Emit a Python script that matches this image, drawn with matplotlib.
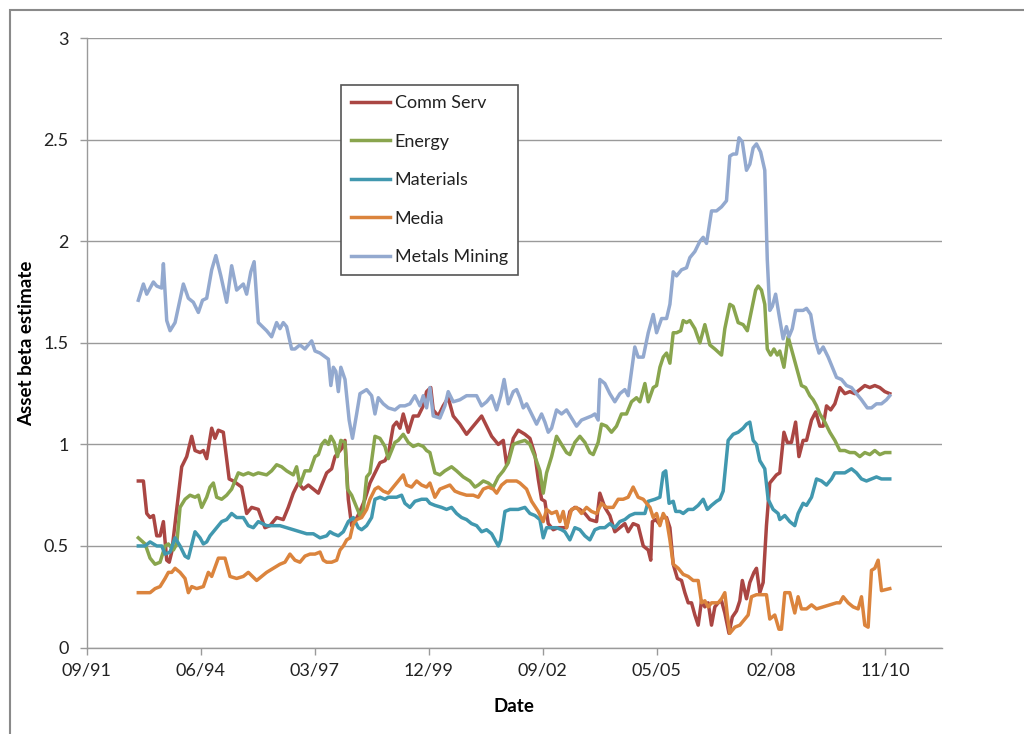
import datetime as dt
import matplotlib
matplotlib.use('Agg')
import matplotlib.pyplot as plt
import matplotlib.dates as mdates
from matplotlib.patches import Rectangle

# (decimal year, asset beta)
comm_serv = [(1992.96,0.82),(1993.08,0.82),(1993.16,0.66),(1993.24,0.64),(1993.32,0.65),(1993.40,0.55),(1993.48,0.55),(1993.56,0.62),(1993.64,0.43),(1993.70,0.42),(1993.76,0.47),(1993.84,0.61),(1994.00,0.89),(1994.12,0.94),(1994.24,1.04),(1994.32,0.97),(1994.44,0.96),(1994.52,0.97),(1994.60,0.93),(1994.72,1.08),(1994.80,1.03),(1994.88,1.07),(1995.00,1.06),(1995.14,0.83),(1995.24,0.82),(1995.44,0.79),(1995.56,0.66),(1995.68,0.69),(1995.84,0.68),
    (1996.00,0.59),(1996.12,0.60),(1996.28,0.64),(1996.44,0.63),(1996.56,0.69),(1996.68,0.76),(1996.80,0.81),(1996.92,0.78),(1997.04,0.80),(1997.16,0.78),(1997.28,0.76),(1997.40,0.82),(1997.48,0.86),(1997.60,0.88),(1997.68,0.94),(1997.76,0.96),(1997.84,0.98),(1997.92,1.02),(1998.00,0.73),(1998.08,0.60),(1998.16,0.62),(1998.28,0.67),(1998.40,0.73),(1998.52,0.81),(1998.64,0.86),(1998.76,0.91),(1998.88,0.92),(1998.96,0.95),
    (1999.08,1.09),(1999.16,1.11),(1999.24,1.08),(1999.32,1.15),(1999.44,1.06),(1999.56,1.14),(1999.68,1.14),(1999.80,1.19),(1999.88,1.26),(1999.98,1.28),(2000.04,1.17),(2000.16,1.14),(2000.28,1.19),(2000.40,1.23),(2000.52,1.14),(2000.68,1.10),(2000.84,1.05),(2000.96,1.08),(2001.08,1.11),(2001.20,1.14),(2001.32,1.09),(2001.44,1.04),(2001.60,1.00),(2001.72,1.02),(2001.80,0.90),(2001.86,0.94),(2001.96,1.03),(2002.08,1.07),
    (2002.24,1.05),(2002.36,1.03),(2002.48,0.95),(2002.56,0.83),(2002.64,0.73),(2002.72,0.72),(2002.80,0.61),(2002.92,0.58),(2003.04,0.59),(2003.16,0.59),(2003.24,0.59),(2003.32,0.67),(2003.44,0.69),(2003.56,0.68),(2003.68,0.66),(2003.80,0.63),(2003.96,0.62),(2004.04,0.76),(2004.16,0.69),(2004.28,0.65),(2004.40,0.57),(2004.52,0.59),(2004.64,0.61),(2004.72,0.57),(2004.84,0.61),(2004.96,0.60),(2005.08,0.50),(2005.20,0.48),(2005.26,0.43),
    (2005.30,0.62),(2005.38,0.63),(2005.46,0.61),(2005.54,0.64),(2005.64,0.64),(2005.72,0.59),(2005.80,0.41),(2005.90,0.34),(2006.00,0.33),(2006.08,0.27),(2006.16,0.22),(2006.24,0.22),(2006.32,0.16),(2006.40,0.11),(2006.48,0.23),(2006.56,0.20),(2006.64,0.22),(2006.72,0.11),(2006.80,0.20),(2006.88,0.22),(2006.96,0.23),(2007.04,0.17),(2007.14,0.07),(2007.22,0.15),(2007.32,0.18),(2007.40,0.23),(2007.46,0.33),(2007.56,0.24),(2007.64,0.32),(2007.74,0.37),(2007.80,0.39),(2007.88,0.27),(2007.96,0.32),(2008.04,0.60),(2008.12,0.81),(2008.20,0.83),(2008.28,0.85),(2008.36,0.86),
    (2008.46,1.06),(2008.54,1.01),(2008.64,1.01),(2008.74,1.11),(2008.82,0.94),(2008.92,1.02),(2009.00,1.02),(2009.12,1.12),(2009.22,1.16),(2009.32,1.09),(2009.40,1.09),(2009.48,1.19),(2009.58,1.17),(2009.68,1.20),(2009.80,1.28),(2009.92,1.25),(2010.04,1.26),(2010.16,1.25),(2010.28,1.27),(2010.40,1.29),(2010.52,1.28),(2010.64,1.29),(2010.76,1.28),(2010.88,1.26),(2011.00,1.25)]

energy = [(1992.96,0.54),(1993.12,0.51),(1993.24,0.44),(1993.36,0.41),(1993.48,0.42),(1993.60,0.50),(1993.68,0.51),(1993.80,0.48),(1993.88,0.51),(1993.96,0.69),(1994.08,0.73),(1994.20,0.75),(1994.32,0.74),(1994.40,0.75),(1994.48,0.69),(1994.60,0.74),(1994.68,0.79),(1994.76,0.81),(1994.84,0.74),(1994.96,0.73),(1995.08,0.75),(1995.20,0.78),(1995.28,0.82),(1995.36,0.86),(1995.48,0.85),(1995.60,0.86),(1995.72,0.85),(1995.84,0.86),
    (1996.04,0.85),(1996.16,0.87),(1996.28,0.90),(1996.40,0.89),(1996.52,0.87),(1996.68,0.85),(1996.76,0.89),(1996.84,0.80),(1996.96,0.87),(1997.08,0.87),(1997.20,0.94),(1997.28,0.95),(1997.36,1.00),(1997.44,1.02),(1997.52,1.00),(1997.58,1.04),(1997.66,1.01),(1997.74,0.94),(1997.82,1.02),(1997.92,1.01),(1997.98,0.78),(1998.08,0.75),(1998.20,0.69),(1998.28,0.65),(1998.36,0.68),(1998.44,0.84),(1998.52,0.86),(1998.64,1.04),(1998.76,1.03),(1998.88,0.99),(1998.96,0.93),
    (1999.12,1.01),(1999.20,1.02),(1999.32,1.05),(1999.44,1.01),(1999.56,0.99),(1999.68,1.00),(1999.80,0.99),(1999.88,0.97),(1999.96,0.96),(2000.08,0.86),(2000.20,0.85),(2000.32,0.87),(2000.48,0.89),(2000.60,0.87),(2000.76,0.84),(2000.92,0.82),(2001.04,0.79),(2001.12,0.80),(2001.24,0.82),(2001.36,0.81),(2001.48,0.79),(2001.60,0.84),(2001.72,0.87),(2001.84,0.91),(2001.96,1.00),(2002.08,1.01),
    (2002.24,1.02),(2002.36,1.00),(2002.48,0.94),(2002.60,0.87),(2002.68,0.76),(2002.76,0.86),(2002.88,0.94),(2003.00,1.04),(2003.12,1.00),(2003.24,0.96),(2003.32,0.95),(2003.44,1.01),(2003.56,1.04),(2003.68,1.01),(2003.80,0.96),(2003.88,0.95),(2004.00,1.01),(2004.08,1.10),(2004.20,1.09),(2004.32,1.06),(2004.44,1.09),(2004.56,1.15),(2004.68,1.15),(2004.80,1.21),(2004.92,1.23),(2005.00,1.21),(2005.12,1.30),(2005.20,1.21),
    (2005.32,1.28),(2005.40,1.29),(2005.48,1.38),(2005.56,1.43),(2005.64,1.45),(2005.72,1.40),(2005.80,1.55),(2005.88,1.55),(2005.98,1.56),(2006.04,1.61),(2006.12,1.60),(2006.20,1.61),(2006.32,1.57),(2006.44,1.50),(2006.56,1.59),(2006.68,1.49),(2006.80,1.47),(2006.96,1.44),(2007.04,1.57),(2007.16,1.69),(2007.24,1.68),(2007.36,1.60),(2007.48,1.59),(2007.58,1.56),(2007.68,1.66),(2007.78,1.76),(2007.84,1.78),(2007.92,1.76),(2008.00,1.69),(2008.06,1.47),(2008.14,1.44),(2008.22,1.47),(2008.30,1.44),
    (2008.36,1.46),(2008.46,1.38),(2008.56,1.53),(2008.68,1.44),(2008.80,1.35),(2008.88,1.29),(2008.98,1.28),(2009.08,1.24),(2009.16,1.22),(2009.24,1.19),(2009.32,1.15),(2009.44,1.11),(2009.56,1.06),(2009.68,1.02),(2009.80,0.97),(2009.92,0.97),(2010.04,0.96),(2010.16,0.96),(2010.28,0.94),(2010.40,0.96),(2010.52,0.95),(2010.64,0.97),(2010.76,0.95),(2010.88,0.96),(2011.00,0.96)]

materials = [(1992.96,0.50),(1993.12,0.50),(1993.24,0.52),(1993.40,0.50),(1993.52,0.50),(1993.60,0.46),(1993.72,0.47),(1993.84,0.54),(1993.96,0.50),(1994.08,0.45),(1994.16,0.44),(1994.32,0.57),(1994.44,0.54),(1994.52,0.51),(1994.60,0.52),(1994.68,0.55),(1994.84,0.59),(1994.96,0.62),(1995.08,0.63),(1995.20,0.66),(1995.32,0.64),(1995.48,0.64),(1995.60,0.60),(1995.72,0.59),(1995.84,0.62),
    (1996.04,0.60),(1996.20,0.60),(1996.36,0.60),(1996.52,0.59),(1996.68,0.58),(1996.84,0.57),(1997.00,0.56),(1997.16,0.56),(1997.32,0.54),(1997.48,0.55),(1997.56,0.57),(1997.64,0.56),(1997.76,0.55),(1997.88,0.57),(1998.00,0.62),(1998.12,0.64),(1998.24,0.59),(1998.32,0.58),(1998.44,0.60),(1998.56,0.64),(1998.64,0.73),(1998.76,0.74),(1998.88,0.73),(1998.96,0.74),
    (1999.16,0.74),(1999.28,0.75),(1999.36,0.71),(1999.48,0.69),(1999.60,0.72),(1999.76,0.73),(1999.88,0.73),(1999.96,0.71),(2000.08,0.70),(2000.24,0.69),(2000.36,0.68),(2000.48,0.69),(2000.60,0.66),(2000.72,0.64),(2000.84,0.63),(2000.96,0.61),(2001.08,0.60),(2001.20,0.57),(2001.32,0.58),(2001.44,0.56),(2001.52,0.53),(2001.60,0.50),(2001.66,0.53),(2001.76,0.67),(2001.88,0.68),(2002.00,0.68),(2002.08,0.68),
    (2002.24,0.69),(2002.36,0.66),(2002.48,0.65),(2002.60,0.63),(2002.68,0.54),(2002.76,0.59),(2002.88,0.59),(2003.00,0.59),(2003.12,0.58),(2003.20,0.57),(2003.32,0.53),(2003.44,0.59),(2003.56,0.58),(2003.68,0.55),(2003.80,0.53),(2003.92,0.58),(2004.04,0.59),(2004.16,0.59),(2004.28,0.61),(2004.40,0.59),(2004.52,0.62),(2004.64,0.63),(2004.76,0.65),(2004.88,0.66),(2005.00,0.66),(2005.12,0.66),(2005.20,0.72),
    (2005.36,0.73),(2005.48,0.74),(2005.56,0.86),(2005.62,0.87),(2005.70,0.71),(2005.80,0.72),(2005.86,0.67),(2005.96,0.67),(2006.04,0.66),(2006.16,0.68),(2006.28,0.68),(2006.40,0.70),(2006.52,0.73),(2006.62,0.68),(2006.72,0.70),(2006.84,0.72),(2006.92,0.73),(2007.00,0.77),(2007.12,1.02),(2007.24,1.05),(2007.36,1.06),(2007.48,1.08),(2007.56,1.10),(2007.64,1.11),(2007.72,1.02),(2007.80,1.00),(2007.88,0.92),(2008.00,0.88),(2008.08,0.73),(2008.20,0.68),(2008.32,0.66),
    (2008.36,0.63),(2008.48,0.65),(2008.60,0.62),(2008.72,0.60),(2008.80,0.66),(2008.92,0.71),(2009.00,0.70),(2009.12,0.74),(2009.24,0.83),(2009.36,0.82),(2009.48,0.80),(2009.60,0.83),(2009.68,0.86),(2009.80,0.86),(2009.92,0.86),(2010.08,0.88),(2010.20,0.86),(2010.32,0.83),(2010.44,0.82),(2010.56,0.83),(2010.68,0.84),(2010.80,0.83),(2010.92,0.83),(2011.00,0.83)]

media = [(1992.96,0.27),(1993.24,0.27),(1993.36,0.29),(1993.48,0.30),(1993.60,0.34),(1993.68,0.37),(1993.76,0.37),(1993.84,0.39),(1993.96,0.37),(1994.08,0.34),(1994.16,0.27),(1994.24,0.30),(1994.36,0.29),(1994.52,0.30),(1994.64,0.37),(1994.72,0.35),(1994.88,0.44),(1995.04,0.44),(1995.16,0.35),(1995.32,0.34),(1995.48,0.35),(1995.60,0.37),(1995.80,0.33),
    (1996.04,0.37),(1996.20,0.39),(1996.36,0.41),(1996.48,0.42),(1996.60,0.46),(1996.72,0.43),(1996.84,0.42),(1996.96,0.45),(1997.08,0.46),(1997.20,0.46),(1997.32,0.47),(1997.40,0.43),(1997.48,0.42),(1997.60,0.42),(1997.72,0.43),(1997.80,0.48),(1997.88,0.50),(1997.96,0.53),(1998.04,0.54),(1998.12,0.61),(1998.20,0.63),(1998.32,0.64),(1998.44,0.68),(1998.52,0.73),(1998.64,0.78),(1998.72,0.79),(1998.84,0.77),(1998.96,0.76),
    (1999.12,0.80),(1999.24,0.83),(1999.32,0.85),(1999.40,0.80),(1999.52,0.79),(1999.64,0.82),(1999.76,0.80),(1999.88,0.79),(1999.96,0.81),(2000.08,0.74),(2000.20,0.78),(2000.32,0.79),(2000.44,0.80),(2000.56,0.77),(2000.68,0.76),(2000.84,0.75),(2001.00,0.75),(2001.12,0.74),(2001.24,0.78),(2001.36,0.79),(2001.48,0.78),(2001.56,0.76),(2001.68,0.80),(2001.80,0.82),(2001.92,0.82),(2002.04,0.82),
    (2002.12,0.81),(2002.28,0.78),(2002.40,0.72),(2002.56,0.67),(2002.68,0.62),(2002.76,0.68),(2002.88,0.66),(2003.00,0.67),(2003.08,0.62),(2003.16,0.67),(2003.24,0.59),(2003.36,0.68),(2003.48,0.69),(2003.60,0.66),(2003.72,0.69),(2003.84,0.67),(2003.96,0.66),(2004.08,0.71),(2004.20,0.69),(2004.36,0.69),(2004.48,0.73),(2004.60,0.73),(2004.72,0.74),(2004.84,0.79),(2004.96,0.74),(2005.08,0.73),(2005.16,0.71),
    (2005.24,0.69),(2005.32,0.64),(2005.40,0.66),(2005.48,0.60),(2005.56,0.66),(2005.64,0.63),(2005.72,0.53),(2005.80,0.41),(2005.92,0.39),(2006.04,0.36),(2006.16,0.35),(2006.28,0.33),(2006.40,0.33),(2006.48,0.22),(2006.56,0.23),(2006.64,0.20),(2006.72,0.22),(2006.80,0.22),(2006.88,0.22),(2006.96,0.24),(2007.04,0.27),(2007.10,0.16),(2007.16,0.07),(2007.28,0.10),(2007.40,0.11),(2007.52,0.14),(2007.60,0.16),(2007.68,0.25),(2007.80,0.26),(2007.92,0.26),(2008.04,0.26),(2008.12,0.14),(2008.24,0.16),(2008.34,0.09),
    (2008.40,0.09),(2008.48,0.27),(2008.60,0.27),(2008.72,0.17),(2008.80,0.25),(2008.88,0.19),(2009.00,0.19),(2009.12,0.21),(2009.24,0.19),(2009.40,0.20),(2009.56,0.21),(2009.72,0.22),(2009.80,0.22),(2009.88,0.25),(2010.00,0.22),(2010.12,0.20),(2010.24,0.19),(2010.32,0.25),(2010.40,0.11),(2010.48,0.10),(2010.56,0.38),(2010.64,0.39),(2010.72,0.43),(2010.80,0.28),(2011.00,0.29)]

metals_mining = [(1992.96,1.71),(1993.08,1.79),(1993.16,1.74),(1993.32,1.80),(1993.40,1.78),(1993.52,1.77),(1993.56,1.89),(1993.64,1.61),(1993.72,1.56),(1993.84,1.60),(1994.04,1.79),(1994.16,1.72),(1994.28,1.70),(1994.40,1.65),(1994.50,1.71),(1994.60,1.72),(1994.72,1.86),(1994.82,1.93),(1994.94,1.83),(1995.08,1.70),(1995.20,1.88),(1995.32,1.76),(1995.48,1.79),(1995.56,1.74),(1995.66,1.85),(1995.74,1.90),(1995.84,1.60),
    (1996.04,1.56),(1996.16,1.53),(1996.28,1.60),(1996.36,1.57),(1996.44,1.60),(1996.52,1.58),(1996.64,1.47),(1996.72,1.47),(1996.84,1.49),(1996.96,1.47),(1997.12,1.51),(1997.20,1.46),(1997.32,1.45),(1997.52,1.42),(1997.58,1.29),(1997.64,1.38),(1997.70,1.36),(1997.76,1.26),(1997.82,1.38),(1997.92,1.32),(1998.02,1.12),(1998.10,1.03),(1998.20,1.15),(1998.28,1.25),(1998.44,1.27),(1998.56,1.24),(1998.64,1.15),(1998.72,1.23),(1998.84,1.20),(1998.96,1.18),
    (1999.12,1.17),(1999.24,1.19),(1999.36,1.19),(1999.48,1.20),(1999.60,1.24),(1999.72,1.19),(1999.80,1.24),(1999.88,1.18),(1999.96,1.28),(2000.04,1.14),(2000.20,1.13),(2000.32,1.19),(2000.40,1.26),(2000.52,1.21),(2000.68,1.22),(2000.84,1.24),(2000.96,1.24),(2001.08,1.24),(2001.20,1.19),(2001.32,1.21),(2001.44,1.24),(2001.56,1.17),(2001.66,1.24),(2001.74,1.32),(2001.84,1.20),(2001.96,1.26),(2002.04,1.27),
    (2002.12,1.23),(2002.20,1.18),(2002.28,1.20),(2002.40,1.15),(2002.52,1.10),(2002.64,1.15),(2002.72,1.11),(2002.80,1.06),(2002.88,1.08),(2003.00,1.17),(2003.12,1.15),(2003.24,1.17),(2003.36,1.13),(2003.48,1.09),(2003.60,1.12),(2003.72,1.13),(2003.84,1.14),(2003.92,1.15),(2004.00,1.12),(2004.04,1.32),(2004.16,1.30),(2004.28,1.25),(2004.40,1.21),(2004.52,1.25),(2004.64,1.27),(2004.72,1.24),(2004.88,1.48),(2004.96,1.43),(2005.08,1.43),(2005.20,1.55),
    (2005.32,1.64),(2005.40,1.55),(2005.52,1.62),(2005.64,1.62),(2005.72,1.69),(2005.80,1.85),(2005.88,1.83),(2006.00,1.86),(2006.12,1.87),(2006.20,1.92),(2006.32,1.95),(2006.44,2.00),(2006.52,2.02),(2006.60,1.99),(2006.72,2.15),(2006.84,2.15),(2006.96,2.17),(2007.08,2.20),(2007.16,2.42),(2007.24,2.43),(2007.32,2.43),(2007.38,2.51),(2007.46,2.49),(2007.56,2.35),(2007.64,2.38),(2007.72,2.46),(2007.80,2.48),(2007.90,2.44),(2008.00,2.35),(2008.06,1.91),(2008.12,1.66),(2008.18,1.68),(2008.26,1.74),(2008.34,1.64),
    (2008.44,1.52),(2008.52,1.58),(2008.58,1.53),(2008.66,1.57),(2008.74,1.66),(2008.82,1.66),(2008.92,1.66),(2009.00,1.67),(2009.10,1.64),(2009.20,1.52),(2009.30,1.45),(2009.40,1.48),(2009.52,1.43),(2009.64,1.37),(2009.72,1.33),(2009.84,1.32),(2009.96,1.29),(2010.08,1.28),(2010.20,1.25),(2010.32,1.22),(2010.46,1.18),(2010.56,1.18),(2010.68,1.20),(2010.80,1.20),(2010.92,1.22),(2011.00,1.24)]

series_names = ['Comm Serv', 'Energy', 'Materials', 'Media', 'Metals Mining']
series_data = [comm_serv, energy, materials, media, metals_mining]
# excel 2007 default palette
series_colors = ['#AA4643', '#89A54E', '#4198AF', '#DB843D', '#93A9CF']

y_ticks = [0, 0.5, 1, 1.5, 2, 2.5, 3]


def to_date(y):
    # decimal year -> datetime
    yr = int(y)
    return dt.datetime(yr, 1, 1) + dt.timedelta(days=(y - yr) * 365.25)


plt.rcParams['font.family'] = ['Lato', 'DejaVu Sans']
FS = 13

fig = plt.figure(figsize=(10.24, 7.34), dpi=100)
W, H = 1024.0, 734.0
# plot area measured in pixels on the reference
ax = fig.add_axes([86.7/W, 1-647.5/H, (942-86.7)/W, (647.5-38.3)/H])

for name, data, col in zip(series_names, series_data, series_colors):
    xs = [to_date(t) for t, v in data]
    ys = [v for t, v in data]
    ax.plot(xs, ys, color=col, lw=2.5, label=name, solid_joinstyle='round')

# excel date axis: starts 1991-09-21, major unit 1000 days
x0 = mdates.date2num(dt.datetime(1991, 9, 21))
ax.set_xlim(x0, x0 + 7500)
ax.set_xticks([x0 + 1000*i for i in range(8)])
ax.xaxis.set_major_formatter(mdates.DateFormatter('%m/%y'))
ax.set_ylim(0, 3)
ax.set_yticks(y_ticks)
ax.set_yticklabels(['0', '0.5', '1', '1.5', '2', '2.5', '3'])

ax.grid(axis='y', color='#9a9a9a', lw=1)
ax.set_axisbelow(True)
for s in ['top', 'right']:
    ax.spines[s].set_visible(False)
for s in ['left', 'bottom']:
    ax.spines[s].set_color('#9a9a9a')
    ax.spines[s].set_linewidth(1)
ax.tick_params(axis='both', colors='#9a9a9a', labelcolor='#222222', labelsize=FS, length=5, width=1)
ax.tick_params(axis='y', pad=8)
ax.tick_params(axis='x', pad=6)

ax.set_xlabel('Date', fontsize=FS + 0.5, fontweight='bold', va='center')
ax.set_ylabel('Asset beta estimate', fontsize=FS + 0.5, fontweight='bold', va='center')
# label centres at x=27px and y=707px on the reference
ax.yaxis.set_label_coords((27 - 86.7) / (942 - 86.7), 0.5)
ax.xaxis.set_label_coords(0.5, -(707 - 647.5) / (647.5 - 38.3))

leg = ax.legend(loc='upper left', bbox_to_anchor=(340.7/W, 1-85/H), bbox_transform=fig.transFigure,
                fontsize=FS, frameon=True, fancybox=False, shadow=False, framealpha=1,
                borderaxespad=0, borderpad=0.55, labelspacing=1.25, handlelength=2.2, handletextpad=0.25)
leg.get_frame().set_edgecolor('#555555')
leg.get_frame().set_linewidth(1.2)
for t in leg.get_texts():
    t.set_color('#222222')

# outer chart border (cut off on the right and bottom in the reference)
fig.add_artist(Rectangle((9.5/W, -0.1), 1.2, 1.1 - 10/H, transform=fig.transFigure,
                         fill=False, edgecolor='#8a8a8a', lw=1.5))

fig.savefig('out.png', dpi=100)
